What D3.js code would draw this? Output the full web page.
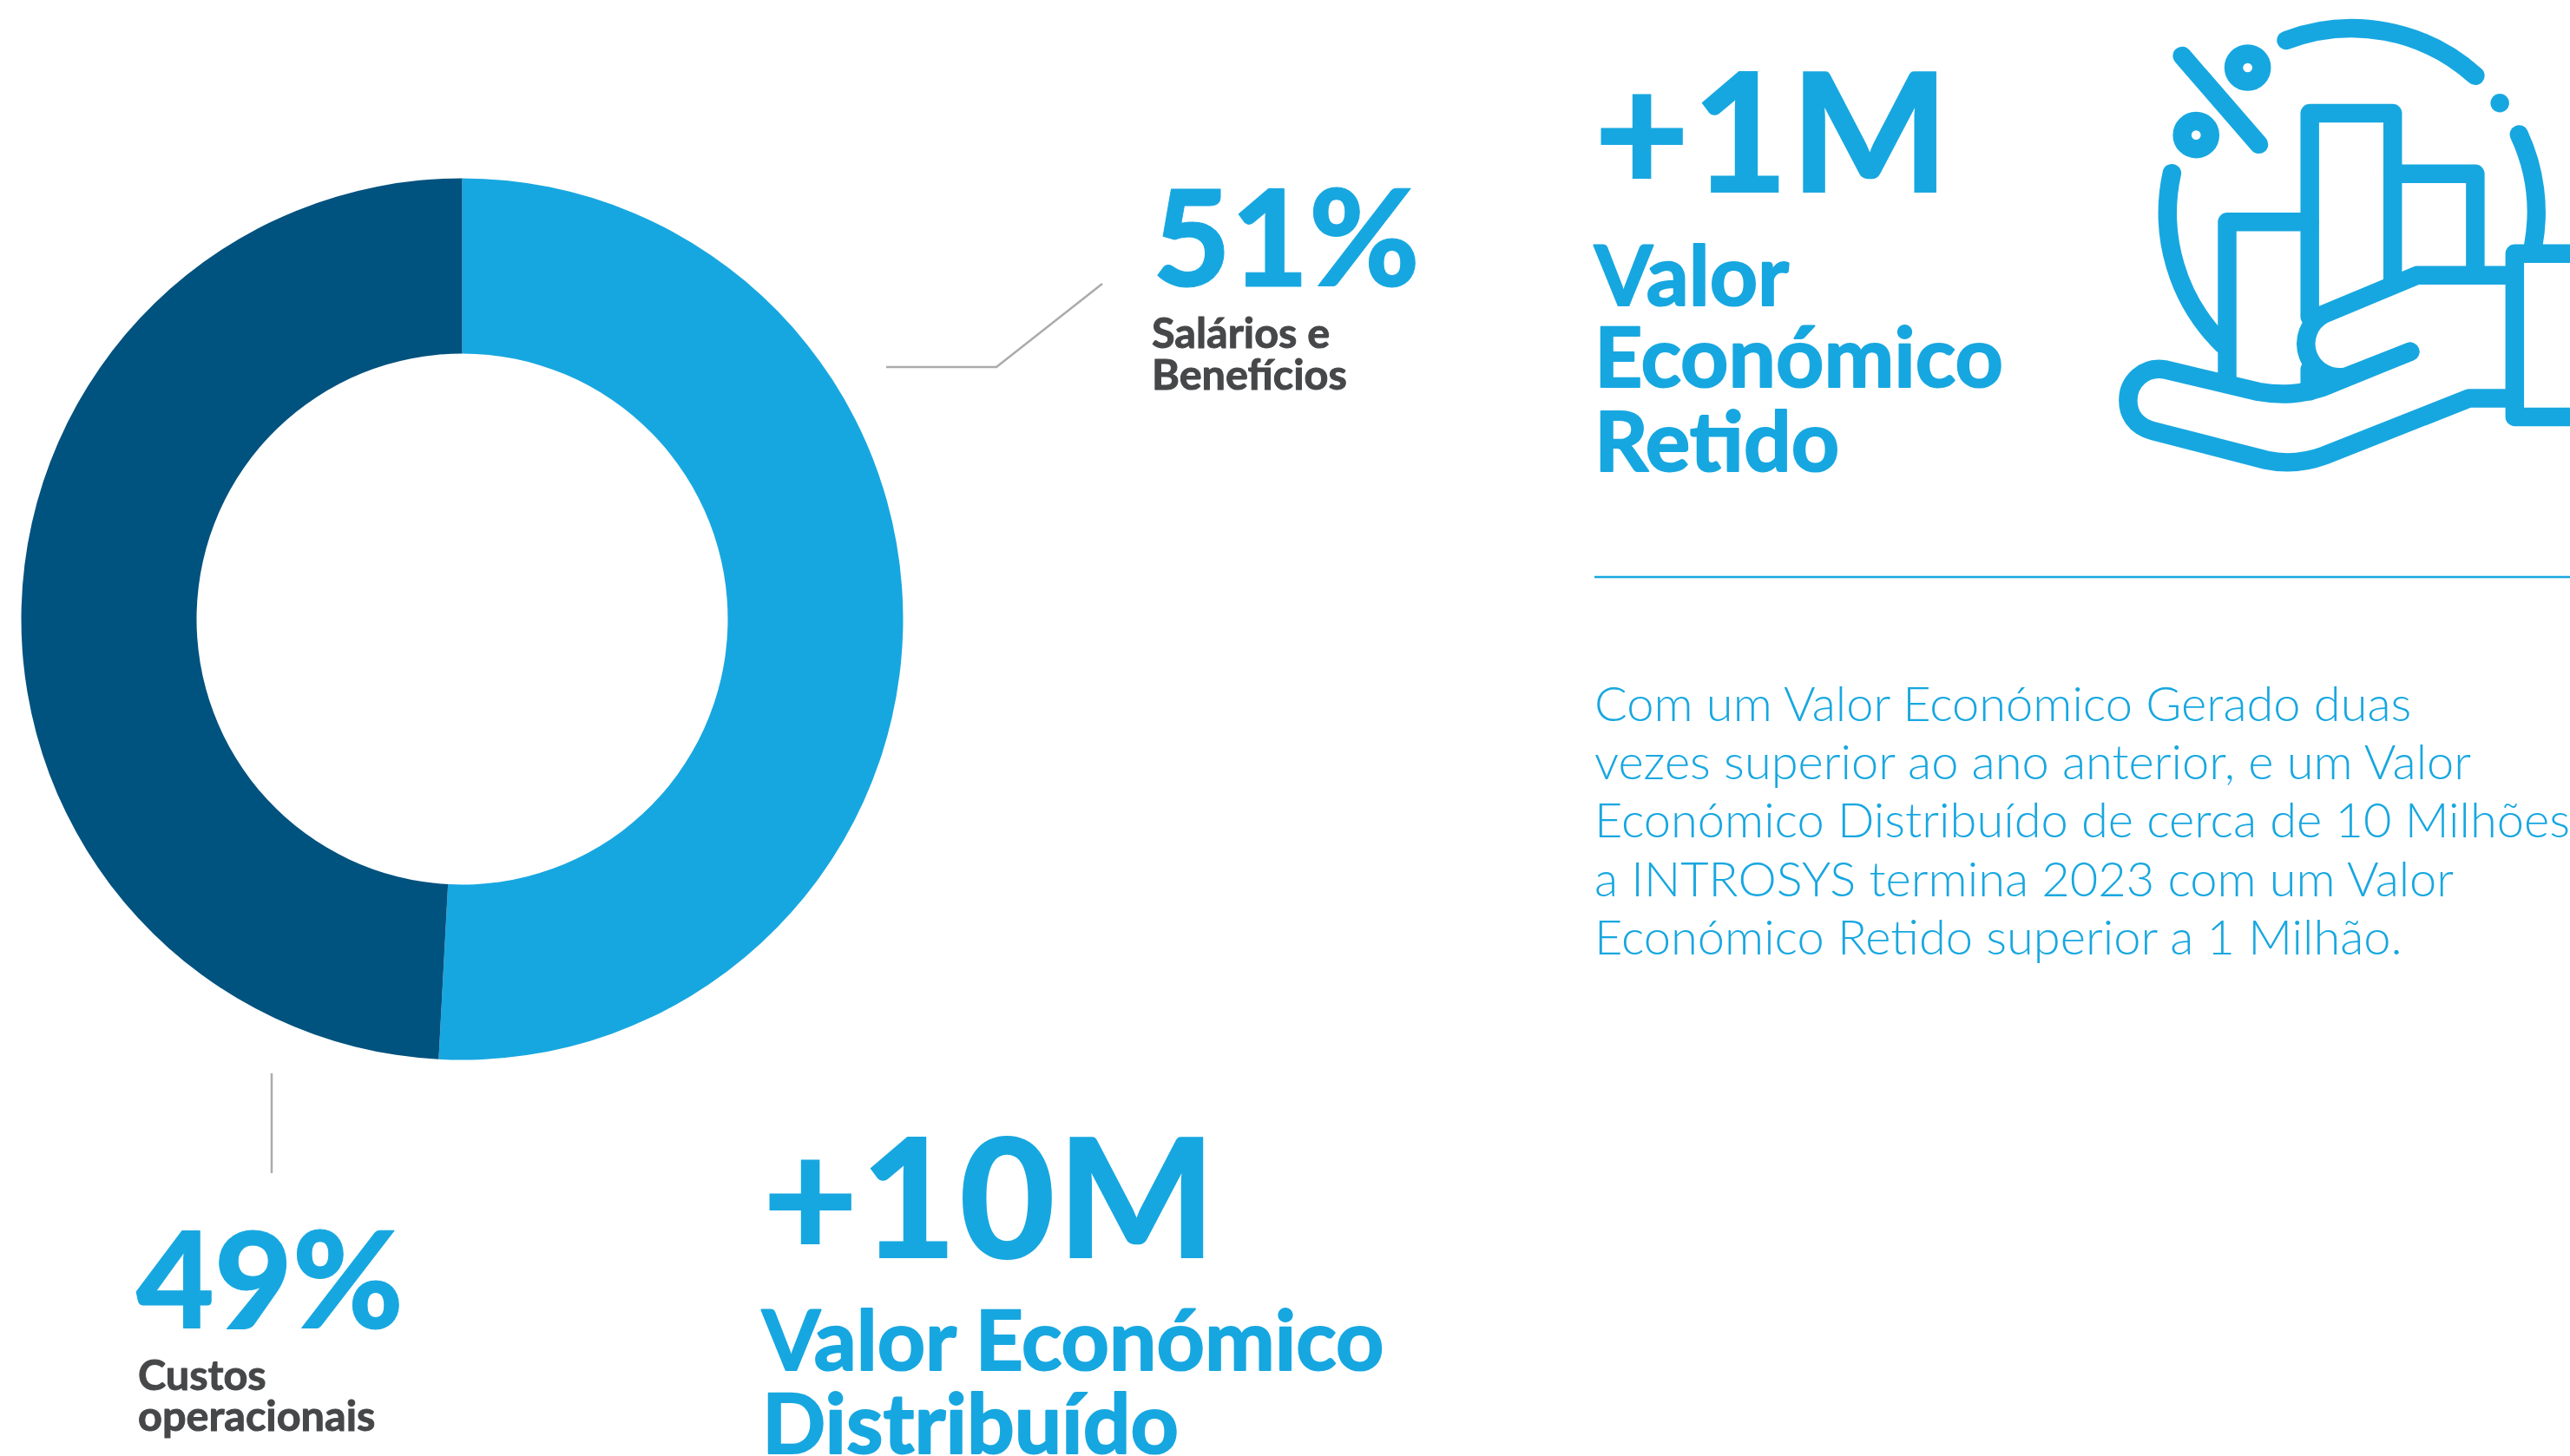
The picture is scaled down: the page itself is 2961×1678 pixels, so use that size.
<!DOCTYPE html>
<html><head><meta charset="utf-8">
<script src="https://cdn.jsdelivr.net/npm/d3@7/dist/d3.min.js"></script>
<style>html,body{margin:0;padding:0;background:#fff;overflow:hidden}svg{display:block}</style>
</head><body><div id="c"></div>
<script>
const categories = ["Salários e Benefícios", "Custos operacionais"];
const shares = [50.85, 49.15];
const shareLabels = ["51%", "49%"];
const sliceColors = ["#17a7e0", "#00527f"];
const paragraph = [
  "Com um Valor Económico Gerado duas",
  "vezes superior ao ano anterior, e um Valor",
  "Económico Distribuído de cerca de 10 Milhões",
  "a INTROSYS termina 2023 com um Valor",
  "Económico Retido superior a 1 Milhão."
];
const W = 2961, H = 1678, BLUE = "#17a7e0", GREY = "#464749", LINE = "#ababad";
const BLACK = '"Lato Black",Lato,sans-serif', REG = 'Lato,sans-serif';
const svg = d3.select("#c").append("svg").attr("width", W).attr("height", H);

// Donut
const pie = d3.pie().sort(null)(shares);
const arc = d3.arc().innerRadius(306).outerRadius(508);
svg.append("g").attr("transform", "translate(532.5,713.5)")
  .selectAll("path").data(pie).join("path")
  .attr("d", arc).attr("fill", (d, i) => sliceColors[i]);

// Leaders
const line = d3.line();
svg.append("path").attr("d", line([[1021,423],[1148,423],[1270,327]])).attr("fill","none").attr("stroke",LINE).attr("stroke-width",2.5);
svg.append("path").attr("d", line([[313,1237],[313,1352]])).attr("fill","none").attr("stroke",LINE).attr("stroke-width",2.5);

function t(str, x, y, size, family, weight, fill, extra, spacing) {
  const el = svg.append("text").attr("x", x).attr("y", y).attr("font-size", size)
    .attr("font-family", family).attr("font-weight", weight).attr("fill", fill).text(str);
  if (extra) el.attr("stroke", fill).attr("stroke-width", extra).attr("stroke-linejoin", "round");
  if (spacing) el.attr("letter-spacing", spacing);
  return el;
}
// Percent labels
t(shareLabels[0], 1328, 330, 155, BLACK, 900, BLUE, 1);
t(shareLabels[1], 157, 1531, 155, BLACK, 900, BLUE, 1);
t("Salários e", 1327, 401, 48.6, REG, 700, GREY, 1);
t("Benefícios", 1327, 449, 48.6, REG, 700, GREY, 1);
t("Custos", 159, 1602, 48.6, REG, 700, GREY, 1);
t("operacionais", 159, 1649, 48.6, REG, 700, GREY, 1);

// Headline figures
t("+1M", 1836, 222, 192, BLACK, 900, BLUE, 0, 2);
t("Valor", 1837, 352, 96.5, REG, 700, BLUE, 2);
t("Económico", 1837, 446, 96.5, REG, 700, BLUE, 2);
t("Retido", 1837, 543, 96.5, REG, 700, BLUE, 2);
t("+10M", 878, 1450, 192, BLACK, 900, BLUE, 0, 2);
t("Valor Económico", 878, 1579, 96.5, REG, 700, BLUE, 2);
t("Distribuído", 878, 1675, 96.5, REG, 700, BLUE, 2);

// Rule
svg.append("path").attr("d", line([[1837,665],[2961,665]])).attr("stroke",BLUE).attr("stroke-width",2.5);

// Paragraph
const baselines = [831, 898, 965, 1033, 1100];
paragraph.forEach((s, i) => t(s, 1837, baselines[i], 56, REG, 300, BLUE));

// Icon
const icon = svg.append("g").attr("transform", "translate(2400,0) scale(" + (1/2.795) + ")")
  .attr("fill","none").attr("stroke",BLUE).attr("stroke-width",60)
  .attr("stroke-linecap","round").attr("stroke-linejoin","round");
[
  "M654,130 A595,595 0 0 1 1263,244",
  "M1404,433 A595,595 0 0 1 1450,790",
  "M286,558 A595,595 0 0 0 450,1110",
  "M319,180 L566,465",
  "M464,1220 V715 H730",
  "M730,1020 V365 H997 V905",
  "M730,1190 V1260",
  "M997,560 H1263 V885",
  "M1053,1133 L848,1213 A108,108 0 0 1 775,1012 L1075,887 H1390",
  "M1700,817 H1390 V1343 H1700",
  "M1390,1283 H1243 L775,1468 C715,1490 650,1495 590,1482 L225,1388 C165,1372 145,1330 145,1290 C145,1230 195,1180 262,1190 L565,1262 C640,1275 700,1270 770,1248 L1053,1133"
].forEach(d => icon.append("path").attr("d", d));
icon.append("circle").attr("cx",530).attr("cy",218).attr("r",45);
icon.append("circle").attr("cx",364).attr("cy",435).attr("r",45);
icon.append("circle").attr("cx",1342).attr("cy",332).attr("r",30).attr("fill",BLUE).attr("stroke","none");
</script></body></html>
